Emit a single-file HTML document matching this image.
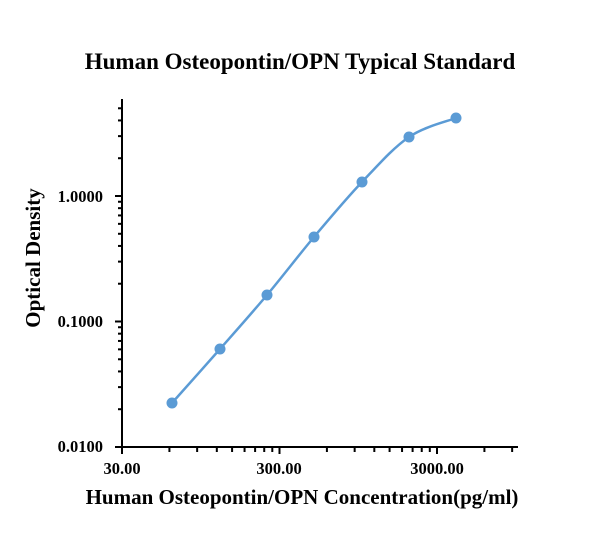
<!DOCTYPE html>
<html><head><meta charset="utf-8"><style>
body{margin:0;background:#fff;}
svg{display:block;font-family:"Liberation Serif",serif;}
</style></head><body>
<svg id="s" width="610" height="557" xmlns="http://www.w3.org/2000/svg">
<text x="300" y="69" text-anchor="middle" font-size="23" font-weight="bold">Human Osteopontin/OPN Typical Standard</text>
<text x="302" y="504" text-anchor="middle" font-size="21" font-weight="bold">Human Osteopontin/OPN Concentration(pg/ml)</text>
<text transform="translate(40,258) rotate(-90)" text-anchor="middle" font-size="21" font-weight="bold">Optical Density</text>
<g font-size="16.5" font-weight="bold">
<text x="122" y="474" text-anchor="middle">30.00</text>
<text x="279" y="474" text-anchor="middle">300.00</text>
<text x="437" y="474" text-anchor="middle">3000.00</text>
<text x="103" y="452" text-anchor="end">0.0100</text>
<text x="103" y="327" text-anchor="end">0.1000</text>
<text x="103" y="202" text-anchor="end">1.0000</text>
</g>
<g id="ax" stroke="#000" stroke-width="2" fill="none"></g>
<g id="ser"></g>
</svg>
<script>
var ax=document.getElementById('ax'),ser=document.getElementById('ser');
var X0=122,DX=157.5,Y0=447,DY=125.5;
function xp(v){return X0+DX*Math.log10(v/30);}
function yp(v){return Y0-DY*Math.log10(v/0.01);}
var h='<line x1="122" y1="99" x2="122" y2="447"/><line x1="121" y1="447" x2="518" y2="447"/>';
[30,300,3000].forEach(function(v){var x=xp(v);h+='<line x1="'+x+'" y1="447" x2="'+x+'" y2="454"/>';});
[30,300,3000].forEach(function(b){for(var k=2;k<=9;k++){var v=b*k;var x=xp(v);if(x>519)break;h+='<line x1="'+x+'" y1="447" x2="'+x+'" y2="452"/>';}});
[0.01,0.1,1].forEach(function(v){var y=yp(v);h+='<line x1="115" y1="'+y+'" x2="122" y2="'+y+'"/>';});
[0.01,0.1,1].forEach(function(b){for(var k=2;k<=9;k++){var y=yp(b*k);if(y<99)break;h+='<line x1="118" y1="'+y+'" x2="122" y2="'+y+'"/>';}});
ax.innerHTML=h;
var P=[[172,403],[220,349],[267,295],[314,237],[362,182],[409,137],[456,118]];
var d='M'+P[0][0]+','+P[0][1];
for(var i=0;i<P.length-1;i++){var p0=P[Math.max(0,i-1)],p1=P[i],p2=P[i+1],p3=P[Math.min(P.length-1,i+2)];
d+=' C'+(p1[0]+(p2[0]-p0[0])/6)+','+(p1[1]+(p2[1]-p0[1])/6)+' '+(p2[0]-(p3[0]-p1[0])/6)+','+(p2[1]-(p3[1]-p1[1])/6)+' '+p2[0]+','+p2[1];}
var s='<path d="'+d+'" fill="none" stroke="#5b9bd5" stroke-width="2.5"/>';
P.forEach(function(p){s+='<circle cx="'+p[0]+'" cy="'+p[1]+'" r="5.5" fill="#5b9bd5"/>';});
ser.innerHTML=s;
</script>
</body></html>
